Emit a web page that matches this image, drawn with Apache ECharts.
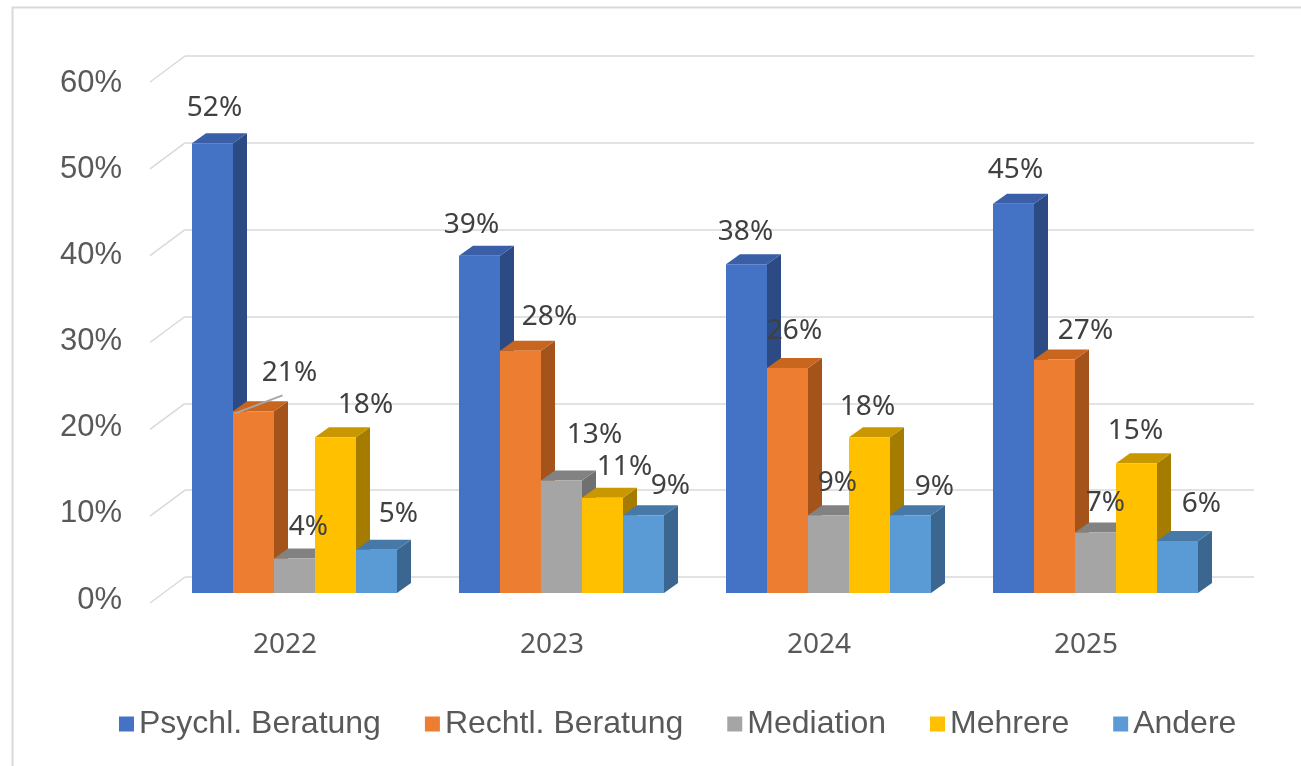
<!DOCTYPE html>
<html>
<head>
<meta charset="utf-8">
<script src="https://cdn.jsdelivr.net/npm/echarts@6/dist/echarts.min.js"></script>
<style>
  html, body { margin: 0; padding: 0; background: #fff; }
  #chart { width: 1301px; height: 766px; }
</style>
</head>
<body>
<div id="chart"></div>
<script>
// data
const years = ['2022', '2023', '2024', '2025'];
const seriesNames = ['Psychl. Beratung', 'Rechtl. Beratung', 'Mediation', 'Mehrere', 'Andere'];
const psychl = [52, 39, 38, 45];
const rechtl = [21, 28, 26, 27];
const mediation = [4, 13, 9, 7];
const mehrere = [18, 11, 18, 15];
const andere = [5, 9, 9, 6];
const yTicks = [0, 10, 20, 30, 40, 50, 60];

const seriesValues = [psychl, rechtl, mediation, mehrere, andere];

// colours: front / top / side
const frontColors = ['#4472C4', '#ED7D31', '#A5A5A5', '#FFC000', '#5B9BD5'];
const topColors = ['#3A5FA6', '#C8651F', '#828282', '#C99700', '#4679A8'];
const sideColors = ['#2C4A84', '#A4531B', '#707070', '#A67C00', '#3A6690'];

// label nudges (px) relative to the centre of each bar's front top
const labelDx = [
  [2, -8, -1, 2],
  [36, 29, 7, 31],
  [14, 33, 9, 10],
  [30, 22, -2, -1],
  [22, 27, 24, 24]
];
const labelDy = [
  [-35, -31, -32, -34],
  [-38, -34, -37, -28],
  [-31, -46, -32, -29],
  [-32, -31, -30, -32],
  [-36, -29, -28, -37]
];
// which labels Excel gave a leader line
const leaders = [
  [0, 0, 0, 0],
  [1, 0, 0, 0],
  [0, 0, 0, 0],
  [0, 0, 0, 0],
  [0, 0, 0, 0]
];

const barRatio = 41 / 267;  // bar width as a share of the category band
const depthX = 14, depthY = 10;

const chart = echarts.init(document.getElementById('chart'));

function barGeom(api, i) {
  const j = api.value(0), v = api.value(1);
  const base = api.coord([j, 0]);
  const top = api.coord([j, v]);
  const w = api.size([1, 0])[0] * barRatio;
  const x = base[0] + (i - 2.5) * w;
  return { x, w, yTop: top[1], yBase: base[1] };
}

const barSeries = seriesValues.map((vals, i) => ({
  type: 'custom',
  name: seriesNames[i],
  xAxisIndex: 0,
  yAxisIndex: 0,
  z: 3,
  itemStyle: { color: frontColors[i] },
  data: vals.map((v, j) => [j, v]),
  encode: { x: 0, y: 1 },
  renderItem: (params, api) => {
    const { x, w, yTop, yBase } = barGeom(api, i);
    return {
      type: 'group',
      children: [
        {
          type: 'polygon',
          shape: { points: [[x + w, yTop], [x + w + depthX, yTop - depthY], [x + w + depthX, yBase - depthY], [x + w, yBase]] },
          style: { fill: sideColors[i] }
        },
        {
          type: 'polygon',
          shape: { points: [[x, yTop], [x + depthX, yTop - depthY], [x + w + depthX, yTop - depthY], [x + w, yTop]] },
          style: { fill: topColors[i] }
        },
        {
          type: 'rect',
          shape: { x: x, y: yTop, width: w, height: yBase - yTop },
          style: { fill: frontColors[i] }
        }
      ]
    };
  }
}));

// labels drawn above all bars
const labelData = [];
seriesValues.forEach((vals, i) => vals.forEach((v, j) => labelData.push([j, v, i])));

const labelSeries = {
  type: 'custom',
  name: 'labels',
  xAxisIndex: 0,
  yAxisIndex: 0,
  z: 5,
  silent: true,
  data: labelData,
  encode: { x: 0, y: 1 },
  renderItem: (params, api) => {
    const i = api.value(2), j = api.value(0);
    const g = barGeom(api, i);
    const lx = g.x + g.w / 2 + labelDx[i][j];
    const ly = g.yTop + labelDy[i][j];
    const children = [{
      type: 'text',
      style: {
        x: lx,
        y: ly,
        text: api.value(1) + '%',
        fill: '#404040',
        font: '28px "Noto Sans", sans-serif',
        align: 'center',
        verticalAlign: 'middle'
      }
    }];
    if (leaders[i][j]) {
      children.push({
        type: 'line',
        shape: { x1: g.x + 2, y1: g.yTop + 2, x2: lx - 7, y2: ly + 22 },
        style: { stroke: '#a6a6a6', lineWidth: 2 }
      });
    }
    return { type: 'group', children };
  }
};

// diagonal stubs joining the back-wall gridlines to the tick labels
const diagSeries = {
  type: 'custom',
  name: 'diag',
  xAxisIndex: 1,
  yAxisIndex: 1,
  z: 1,
  silent: true,
  data: yTicks.map(t => [0, t]),
  encode: { x: 0, y: 1 },
  renderItem: (params, api) => {
    const p = api.coord([0, api.value(1)]);
    const x0 = params.coordSys.x;
    return {
      type: 'line',
      shape: { x1: x0, y1: p[1], x2: x0 - 35, y2: p[1] + 26 },
      style: { stroke: '#d9d9d9', lineWidth: 1.5 }
    };
  }
};

const option = {
  backgroundColor: '#fff',
  animation: false,
  graphic: [{
    type: 'rect',
    left: 10, top: 5,
    shape: { width: 1400, height: 900 },
    style: { fill: 'none', stroke: '#d9d9d9', lineWidth: 2 },
    silent: true,
    z: -1
  }],
  legend: {
    data: seriesNames,
    left: 114,
    top: 703,
    icon: 'rect',
    itemWidth: 15,
    itemHeight: 15,
    itemGap: 44,
    textStyle: {
      fontSize: 32,
      color: '#595959',
      fontFamily: '"Liberation Sans", Arial, sans-serif'
    }
  },
  grid: [
    // front plane of the bars
    { left: 161, right: 72, top: 74, bottom: 173 },
    // back wall with gridlines
    { left: 185, right: 47, top: 56, bottom: 189 },
    // tick labels
    { left: 150, right: 1000, top: 83, bottom: 166 }
  ],
  xAxis: [
    {
      type: 'category', gridIndex: 0, data: years,
      axisLine: { show: false }, axisTick: { show: false },
      axisLabel: {
        margin: 38,
        fontSize: 28,
        color: '#595959',
        fontFamily: '"Noto Sans", sans-serif',
        padding: [0, 19, 0, 0]
      }
    },
    { type: 'category', gridIndex: 1, data: ['x'], show: false },
    { type: 'category', gridIndex: 2, data: ['x'], show: false }
  ],
  yAxis: [
    { type: 'value', gridIndex: 0, min: 0, max: 60, interval: 10, show: false },
    {
      type: 'value', gridIndex: 1, min: 0, max: 60, interval: 10,
      axisLine: { show: false }, axisTick: { show: false },
      axisLabel: { show: false },
      splitLine: { lineStyle: { color: '#d9d9d9', width: 1.5 } }
    },
    {
      type: 'value', gridIndex: 2, min: 0, max: 60, interval: 10,
      axisLine: { show: false }, axisTick: { show: false },
      splitLine: { show: false },
      axisLabel: {
        margin: 28,
        formatter: '{value}%',
        fontSize: 31,
        color: '#595959',
        fontFamily: '"Liberation Sans", Arial, sans-serif'
      }
    }
  ],
  series: [diagSeries, ...barSeries, labelSeries]
};

chart.setOption(option);
</script>
</body>
</html>
